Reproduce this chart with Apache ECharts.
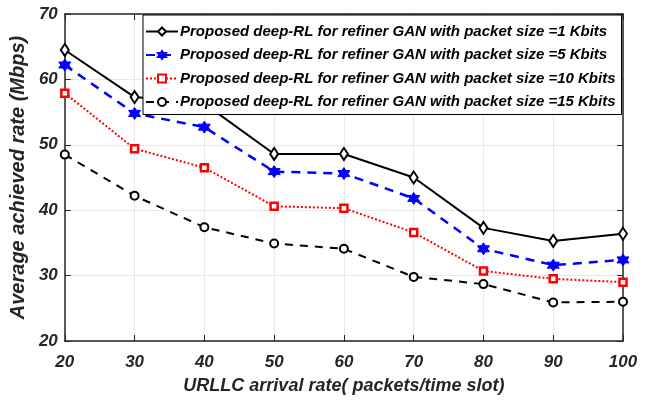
<!DOCTYPE html>
<html>
<head>
<meta charset="utf-8">
<script src="https://cdn.jsdelivr.net/npm/echarts@6/dist/echarts.min.js"></script>
<style>
  html, body { margin: 0; padding: 0; background: #fff; }
  #chart { width: 651px; height: 400px; }
</style>
</head>
<body>
<div id="chart"></div>
<script>
// URLLC arrival rate (packets/time slot)
const arrivalRates = [20, 30, 40, 50, 60, 70, 80, 90, 100];

// Average achieved rate (Mbps) for each packet size
const rate1Kbits  = [64.5, 57.3, 56.3, 48.6, 48.6, 45.0, 37.3, 35.3, 36.4];
const rate5Kbits  = [62.2, 54.8, 52.7, 45.9, 45.6, 41.8, 34.1, 31.6, 32.4];
const rate10Kbits = [57.9, 49.4, 46.5, 40.6, 40.3, 36.6, 30.7, 29.5, 29.0];
const rate15Kbits = [48.5, 42.2, 37.4, 34.9, 34.1, 29.8, 28.7, 25.9, 26.0];

const seriesNames = [
  'Proposed deep-RL for refiner GAN with packet size =1 Kbits',
  'Proposed deep-RL for refiner GAN with packet size =5 Kbits',
  'Proposed deep-RL for refiner GAN with packet size =10 Kbits',
  'Proposed deep-RL for refiner GAN with packet size =15 Kbits'
];

const hexagram = 'path://M0,-10 L2.887,-5 L8.66,-5 L5.774,0 L8.66,5 L2.887,5 L0,10 L-2.887,5 L-8.66,5 L-5.774,0 L-8.66,-5 L-2.887,-5 Z';

const pair = arr => arr.map((v, i) => [arrivalRates[i], v]);

const tickFont = {
  fontFamily: 'Liberation Sans, Arial, sans-serif',
  fontStyle: 'italic',
  fontWeight: 'bold',
  fontSize: 17,
  color: '#262626'
};

const frameLine = { show: true, lineStyle: { color: '#262626', width: 1.5 } };
const frameTick = { show: true, inside: true, length: 6, lineStyle: { color: '#262626' } };

const chart = echarts.init(document.getElementById('chart'));
chart.setOption({
  animation: false,
  backgroundColor: '#fff',
  grid: { left: 59, right: 28, top: 14, bottom: 59, containLabel: false },
  legend: {
    orient: 'vertical',
    left: 143,
    top: 15,
    z: 10,
    backgroundColor: '#fff',
    borderColor: '#000',
    borderWidth: 1,
    padding: [9, 6, 5, 2],
    itemGap: 8.5,
    itemWidth: 32,
    itemHeight: 10,
    textStyle: {
      fontFamily: 'Liberation Sans, Arial, sans-serif',
      fontStyle: 'italic',
      fontWeight: 'bold',
      fontSize: 15,
      lineHeight: 15,
      color: '#000',
      padding: [0, 0, 0, -3]
    },
    data: seriesNames
  },
  xAxis: [{
    type: 'value',
    min: 20, max: 100, interval: 10,
    name: 'URLLC arrival rate( packets/time slot)',
    nameLocation: 'middle',
    nameGap: 36,
    nameTextStyle: Object.assign({}, tickFont, { fontSize: 18 }),
    axisLine: frameLine,
    axisTick: frameTick,
    axisLabel: Object.assign({}, tickFont, { margin: 13 }),
    splitLine: { show: true, lineStyle: { color: '#e8e8e8', width: 1 } }
  }, {
    type: 'value',
    position: 'top',
    min: 20, max: 100, interval: 10,
    axisLine: frameLine,
    axisTick: frameTick,
    axisLabel: { show: false },
    splitLine: { show: false }
  }],
  yAxis: [{
    type: 'value',
    min: 20, max: 70, interval: 10,
    name: 'Average achieved rate (Mbps)',
    nameLocation: 'middle',
    nameGap: 29,
    nameTextStyle: Object.assign({}, tickFont, { fontSize: 20 }),
    axisLine: frameLine,
    axisTick: frameTick,
    axisLabel: Object.assign({}, tickFont, { margin: 7 }),
    splitLine: { show: true, lineStyle: { color: '#e8e8e8', width: 1 } }
  }, {
    type: 'value',
    position: 'right',
    min: 20, max: 70, interval: 10,
    axisLine: frameLine,
    axisTick: frameTick,
    axisLabel: { show: false },
    splitLine: { show: false }
  }],
  series: [{
    name: seriesNames[0],
    type: 'line',
    data: pair(rate1Kbits),
    symbol: 'diamond',
    symbolSize: [8, 12],
    lineStyle: { color: '#000', width: 2, type: 'solid' },
    itemStyle: { color: '#fff', borderColor: '#000', borderWidth: 2 },
    z: 4
  }, {
    name: seriesNames[1],
    type: 'line',
    data: pair(rate5Kbits),
    symbol: hexagram,
    symbolSize: 12,
    lineStyle: { color: '#0000ff', width: 2.5, type: [9, 7] },
    itemStyle: { color: '#0000ff', borderColor: '#0000ff', borderWidth: 1 },
    z: 3
  }, {
    name: seriesNames[2],
    type: 'line',
    data: pair(rate10Kbits),
    symbol: 'rect',
    symbolSize: 7,
    lineStyle: { color: '#ff0000', width: 2, type: [2, 2] },
    itemStyle: { color: '#fff', borderColor: '#ff0000', borderWidth: 2.5 },
    z: 3
  }, {
    name: seriesNames[3],
    type: 'line',
    data: pair(rate15Kbits),
    symbol: 'circle',
    symbolSize: 8,
    lineStyle: { color: '#000', width: 2, type: [8, 7] },
    itemStyle: { color: '#fff', borderColor: '#000', borderWidth: 2 },
    z: 3
  }]
});
</script>
</body>
</html>
